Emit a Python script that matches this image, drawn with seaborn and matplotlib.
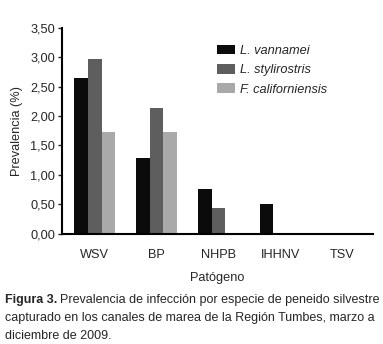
import pandas as pd
import numpy as np
import seaborn as sns
import matplotlib.pyplot as plt
from matplotlib.ticker import FuncFormatter

patogenos = ["WSV", "BP", "NHPB", "IHHNV", "TSV"]
especies = ["L. vannamei", "L. stylirostris", "F. californiensis"]
vannamei = [2.65, 1.28, 0.76, 0.51, 0.0]
stylirostris = [2.97, 2.13, 0.43, 0.0, 0.0]
californiensis = [1.72, 1.72, 0.0, 0.0, 0.0]
colores = ["#0b0b0b", "#5e5e5e", "#a9a9a9"]

df = pd.DataFrame({
    "Patogeno": patogenos * 3,
    "Especie": [especies[0]] * 5 + [especies[1]] * 5 + [especies[2]] * 5,
    "Prevalencia": vannamei + stylirostris + californiensis,
})

sns.set_style("white")
plt.rcParams["font.family"] = ["Liberation Sans", "DejaVu Sans"]

fig = plt.figure(figsize=(3.83, 3.44), dpi=100)
ax = fig.add_axes([0.162, 0.321, 0.812, 0.598])
sns.barplot(data=df, x="Patogeno", y="Prevalencia", hue="Especie",
            palette=colores, width=0.66, edgecolor="none", ax=ax)

ax.set_ylim(0, 3.5)
ax.set_xlim(-0.53, 4.5)
ax.set_yticks(np.arange(0, 3.51, 0.5))
ax.yaxis.set_major_formatter(FuncFormatter(lambda v, p: f"{v:.2f}".replace(".", ",")))
ax.tick_params(axis="y", direction="out", length=3, width=1, labelsize=9.2, pad=2, left=True)
ax.tick_params(axis="x", length=0, labelsize=9.2, pad=11)
ax.set_ylabel("Prevalencia (%)", fontsize=9.2, labelpad=5)
ax.set_xlabel("Patógeno", fontsize=9.2, labelpad=8)
for s in ["top", "right"]:
    ax.spines[s].set_visible(False)
for s in ["left", "bottom"]:
    ax.spines[s].set_color("black")
    ax.spines[s].set_linewidth(1.5)

leg = ax.legend(loc="upper right", bbox_to_anchor=(0.89, 0.975), frameon=False,
                fontsize=9.2, handlelength=1.4, handleheight=0.8, handletextpad=0.4,
                labelspacing=0.55)
for t in leg.get_texts():
    t.set_style("italic")

# pie de figura
fs = 9
t1 = fig.text(0.012, 0.118, "Figura 3.", fontsize=fs, fontweight="bold")
fig.canvas.draw()
bb = t1.get_window_extent()
x2 = (bb.x1 + 3) / fig.bbox.width
fig.text(x2, 0.118, "Prevalencia de infección por especie de peneido silvestre", fontsize=fs)
fig.text(0.012, 0.066, "capturado en los canales de marea de la Región Tumbes, marzo a", fontsize=fs)
fig.text(0.012, 0.014, "diciembre de 2009.", fontsize=fs)

fig.savefig("out.png", dpi=100)
